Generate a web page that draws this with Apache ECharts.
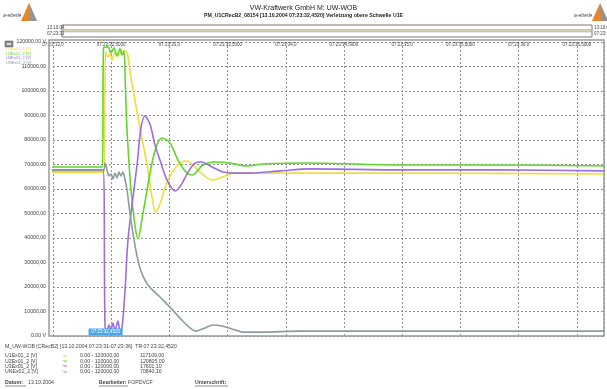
<!DOCTYPE html>
<html>
<head>
<meta charset="utf-8">
<script src="https://cdn.jsdelivr.net/npm/echarts@6/dist/echarts.min.js"></script>
<style>
  html, body { margin: 0; padding: 0; background: #fff; }
  #chart { width: 607px; height: 389px; }
</style>
</head>
<body>
<div id="chart"></div>
<script>
// zeit in sekunden ab 07:23:32,0 / werte in V
var seriesNames = ['U1Ex01_2 [V]', 'U2Ex01_2 [V]', 'U3Ex01_2 [V]', 'UNEx01_2 [V]'];
var seriesColors = ['#f2dc3a', '#62d62c', '#9b6ee2', '#8d9c9e'];
var rangeLabels = ['0,00 - 120000,00', '0,00 - 120000,00', '0,00 - 120000,00', '0,00 - 120000,00'];
var cursorValues = ['117109,00', '120805,00', '17601,10', '70840,10'];
var xTickLabels = ['07:23:32,0', '07:23:32,5000', '07:23:33,0', '07:23:33,5000', '07:23:34,0',
  '07:23:34,5000', '07:23:35,0', '07:23:35,5000', '07:23:36,0', '07:23:36,5000'];
var triggerTime = 0.452;
var triggerLabel = '07:23:32,4520';

var u1e = [[-0.034, 66900], [0.438, 66900], [0.451, 115900], [0.472, 113900], [0.490, 115100],
  [0.507, 112700], [0.533, 115500], [0.558, 114300], [0.584, 115900], [0.619, 116300],
  [0.644, 114300], [0.662, 107800], [0.704, 96300], [0.747, 84900], [0.808, 69800],
  [0.851, 56700], [0.881, 50600], [0.919, 53900], [0.988, 63700], [1.065, 69400],
  [1.134, 71400], [1.177, 71000], [1.263, 66900], [1.366, 63700], [1.460, 64900],
  [1.546, 66500], [1.804, 66500], [2.208, 66500], [2.981, 66500], [4.734, 66100]];

var u2e = [[-0.034, 69000], [0.425, 69000], [0.434, 117600], [0.472, 118000], [0.498, 115500],
  [0.524, 117600], [0.550, 114300], [0.576, 117200], [0.593, 114700], [0.610, 116300],
  [0.623, 100400], [0.636, 84100], [0.670, 59600], [0.704, 45300], [0.730, 39600],
  [0.773, 50200], [0.851, 70600], [0.893, 78000], [0.936, 80800], [1.005, 78800],
  [1.074, 71800], [1.143, 66900], [1.194, 65700], [1.289, 69800], [1.392, 71000],
  [1.521, 70600], [1.667, 69400], [1.804, 70200], [2.208, 70600], [2.981, 69800],
  [3.840, 69800], [4.734, 69400]];

var u3e = [[-0.034, 67800], [0.430, 67800], [0.447, 3700], [0.464, 2400], [0.481, 4500],
  [0.498, 2400], [0.515, 5300], [0.533, 2400], [0.558, 6100], [0.576, 2000], [0.593, 3300],
  [0.619, 18800], [0.644, 39200], [0.679, 53500], [0.722, 69800], [0.756, 84900],
  [0.790, 89800], [0.833, 86500], [0.876, 78000], [0.919, 71800], [0.979, 63700],
  [1.048, 59200], [1.100, 61600], [1.160, 66900], [1.220, 70600], [1.271, 71000],
  [1.366, 69000], [1.460, 66900], [1.538, 66500], [1.692, 66500], [1.950, 67400],
  [2.208, 68200], [2.981, 67800], [3.840, 67800], [4.734, 67400]];

var une = [[-0.034, 67600], [0.430, 67600], [0.447, 70600], [0.464, 67800], [0.481, 65300],
  [0.498, 66100], [0.515, 64100], [0.533, 66500], [0.550, 64500], [0.567, 66900],
  [0.584, 65300], [0.601, 66900], [0.619, 63700], [0.636, 59600], [0.661, 50200],
  [0.704, 37100], [0.747, 27800], [0.816, 20800], [0.919, 15900], [1.005, 11800],
  [1.091, 7300], [1.177, 3300], [1.228, 2000], [1.306, 3300], [1.375, 4500], [1.452, 4100],
  [1.538, 2900], [1.632, 1600], [1.804, 1600], [2.122, 2000], [2.981, 2000], [4.734, 2000]];

var allData = [u1e, u2e, u3e, une];

var chart = echarts.init(document.getElementById('chart'), null, {renderer: 'canvas'});

var font = 'Liberation Sans, Arial, sans-serif';
var txtColor = '#444';

function txt(x, y, s, size, extra) {
  var style = {x: x, y: y, text: s, fontSize: size, fontFamily: font, fill: txtColor, verticalAlign: 'middle'};
  for (var k in extra) style[k] = extra[k];
  return {type: 'text', silent: true, style: style, z: 10};
}

function logo(xText, xTri) {
  return [
    txt(xText, 16, 'a-eberle', 5, {fontStyle: 'italic'}),
    {type: 'polygon', silent: true, shape: {points: [[xTri, 21], [xTri + 8, 3], [xTri + 16, 21]]},
      style: {fill: '#e8862c'}},
    {type: 'polygon', silent: true, shape: {points: [[xTri + 8, 3], [xTri + 16, 21], [xTri + 9, 21]]},
      style: {fill: '#7d97b4', opacity: 0.8}}
  ];
}

var graphics = [];
graphics = graphics.concat(logo(3, 21), logo(574, 592));

// uebersichtsleiste oben
graphics.push({type: 'rect', silent: true, shape: {x: 62, y: 25, width: 530, height: 12},
  style: {fill: '#fff', stroke: '#777', lineWidth: 1}});
graphics.push({type: 'rect', silent: true, shape: {x: 63, y: 29.5, width: 528, height: 2.5},
  style: {fill: '#d9d3b0', stroke: '#9a9a9a', lineWidth: 0.5}});
graphics.push(txt(47, 28, '13:10:04', 4.5));
graphics.push(txt(47, 34, '07:23:31', 4.5));
graphics.push(txt(594, 28, '13:10:04', 4.5));
graphics.push(txt(594, 34, '07:23:36', 4.5));

// icon links oben
graphics.push({type: 'rect', silent: true, shape: {x: 5, y: 41, width: 8, height: 6},
  style: {fill: '#8a8a8a', stroke: '#555', lineWidth: 0.5}});
graphics.push({type: 'rect', silent: true, shape: {x: 7, y: 43, width: 4, height: 2},
  style: {fill: '#ddd'}});

// rahmen um den plot
graphics.push({type: 'rect', silent: true, z: 20, shape: {x: 49, y: 40, width: 555, height: 296},
  style: {fill: 'none', stroke: '#9a9a9a', lineWidth: 1.5}});

// text unten
graphics.push(txt(5, 347, 'M_UW-WOB [CRecB2] [13.10.2004 07:23:31-07:23:36]  TR:07:23:32,4520', 5.2));
for (var i = 0; i < seriesNames.length; i++) {
  var y = 356 + i * 5.2;
  graphics.push(txt(5, y, seriesNames[i], 5.2));
  graphics.push(txt(62, y + 0.5, '~', 9, {fill: seriesColors[i]}));
  graphics.push(txt(80, y, rangeLabels[i], 5.2));
  graphics.push(txt(140, y, cursorValues[i], 5.2));
}
var footer = [[5, 'Datum:', 24], [99, 'Bearbeiter:', 32], [195, 'Unterschrift:', 36]];
footer.forEach(function (f) {
  graphics.push(txt(f[0], 383, f[1], 5.2, {fontWeight: 'bold'}));
  graphics.push({type: 'line', silent: true, shape: {x1: f[0], y1: 386, x2: f[0] + f[2] - 3, y2: 386},
    style: {stroke: '#444', lineWidth: 0.6}});
});
graphics.push(txt(28, 383, '13.10.2004', 5.2));
graphics.push(txt(128, 383, 'FOPDVCF', 5.2));

var series = seriesNames.map(function (name, i) {
  var s = {
    name: name,
    type: 'line',
    data: allData[i],
    showSymbol: false,
    smooth: 0.3,
    clip: false,
    lineStyle: {color: seriesColors[i], width: 1.6},
    itemStyle: {color: seriesColors[i]}
  };
  if (i === 0) {
    s.markPoint = {
      symbol: 'rect',
      symbolSize: [34, 7],
      symbolOffset: [0, -4],
      itemStyle: {color: '#45a6ea'},
      label: {show: true, formatter: triggerLabel, color: '#fff', fontSize: 4.5, fontFamily: font},
      data: [{coord: [triggerTime, 0]}]
    };
  }
  return s;
});

var option = {
  backgroundColor: '#fff',
  animation: false,
  title: {
    text: 'VW-Kraftwerk GmbH M: UW-WOB',
    subtext: 'PM_U1CRecB2_08154 [13.10.2004 07:23:32,4520] Verletzung obere Schwelle U1E',
    left: 'center',
    top: 5,
    itemGap: 1,
    padding: 0,
    textStyle: {fontSize: 7, fontWeight: 'normal', color: '#222', fontFamily: font},
    subtextStyle: {fontSize: 5.2, fontWeight: 'bold', color: '#222', fontFamily: font}
  },
  legend: {
    orient: 'vertical',
    left: 1,
    top: 47,
    itemWidth: 0,
    itemHeight: 3,
    itemGap: 0.5,
    padding: 0,
    selectedMode: false,
    textStyle: {fontSize: 4, fontFamily: font},
    data: seriesNames.map(function (n, i) {
      return {name: n, icon: 'rect', textStyle: {color: seriesColors[i]}};
    })
  },
  grid: {left: 53, right: 3, top: 42, bottom: 53},
  xAxis: {
    type: 'value',
    min: 0,
    max: 4.734,
    interval: 0.5,
    position: 'top',
    axisLine: {show: false},
    axisTick: {show: false},
    axisLabel: {
      inside: true,
      margin: 0,
      showMaxLabel: false,
      fontSize: 4.5,
      color: txtColor,
      fontFamily: font,
      formatter: function (v) { return xTickLabels[Math.round(v / 0.5)] || ''; }
    },
    splitLine: {show: true, lineStyle: {color: '#8f8f8f', type: [2, 2], width: 1}}
  },
  yAxis: {
    type: 'value',
    min: 0,
    max: 120000,
    interval: 10000,
    axisLine: {show: false},
    axisTick: {show: false},
    axisLabel: {
      margin: 7,
      fontSize: 5.2,
      color: txtColor,
      fontFamily: font,
      formatter: function (v) {
        if (v === 0 || v === 120000) return v + ',00 V';
        return v + ',00';
      }
    },
    splitLine: {show: true, lineStyle: {color: '#8f8f8f', type: [2, 2], width: 1}}
  },
  graphic: graphics,
  series: series
};

chart.setOption(option);
</script>
</body>
</html>
